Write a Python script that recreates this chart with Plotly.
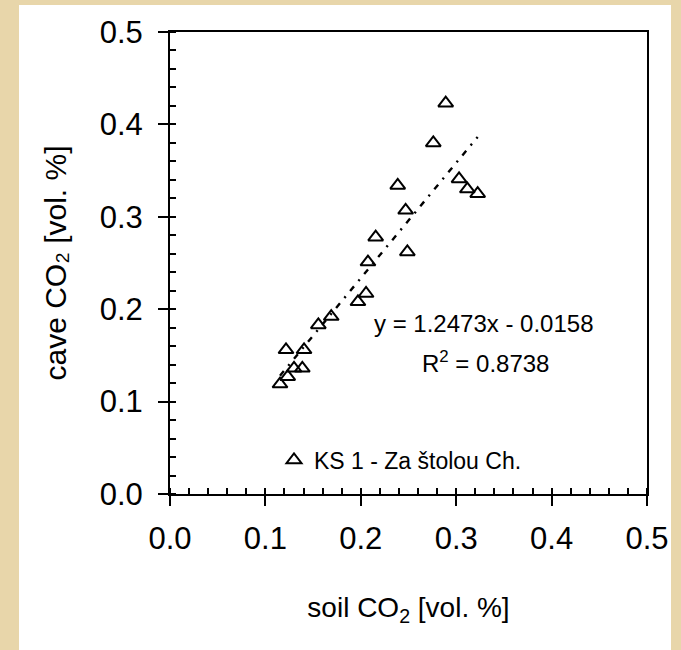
import plotly.graph_objects as go

soil_co2 = [0.289, 0.276, 0.2387, 0.247, 0.303, 0.3117, 0.3225, 0.2156, 0.2488, 0.2075,
            0.2055, 0.197, 0.169, 0.1555, 0.1216, 0.1405, 0.1387, 0.130, 0.1234, 0.1153]
cave_co2 = [0.423, 0.380, 0.334, 0.307, 0.341, 0.330, 0.325, 0.278, 0.262, 0.251,
            0.217, 0.208, 0.192, 0.183, 0.156, 0.156, 0.136, 0.136, 0.127, 0.119]
slope = 1.2473
intercept = -0.0158
r2 = 0.8738
series_name = "KS 1 - Za štolou Ch."
ticks = [0.0, 0.1, 0.2, 0.3, 0.4, 0.5]

FONT = "Arial, Liberation Sans, sans-serif"

fig = go.Figure()

x_fit = [min(soil_co2), max(soil_co2)]
y_fit = [slope * v + intercept for v in x_fit]
fig.add_trace(go.Scatter(
    x=x_fit, y=y_fit, mode="lines", showlegend=False, hoverinfo="skip",
    line=dict(color="black", width=2.4, dash="6px,7px,2px,7px"),
))
fig.add_trace(go.Scatter(
    x=soil_co2, y=cave_co2, mode="markers", name=series_name,
    marker=dict(symbol="triangle-up-open", size=13, color="black",
                line=dict(color="black", width=2)),
))

axis_common = dict(
    range=[0, 0.5], tickvals=ticks, tickformat=".1f",
    showgrid=False, zeroline=False,
    showline=True, linecolor="black", linewidth=2, mirror=True,
    ticks="outside", ticklen=10, tickwidth=2, tickcolor="black",
    tickfont=dict(family=FONT, size=31, color="black"),
    minor=dict(ticks="inside", ticklen=6, tickwidth=1.5, tickcolor="black", dtick=0.02, showgrid=False),
)

fig.update_xaxes(**axis_common, ticklabelstandoff=6,
                 title=dict(text="soil CO<sub>2</sub> [vol. %]", standoff=42,
                            font=dict(family=FONT, size=28, color="black")))
fig.update_yaxes(**axis_common, ticklabelstandoff=9,
                 title=dict(text="cave CO₂ [vol. %]", standoff=24,
                            font=dict(family=FONT, size=30, color="black")))

fig.add_annotation(x=0.329, y=0.184, xref="x", yref="y", showarrow=False,
                   text=f"y = {slope}x - {abs(intercept)}",
                   font=dict(family=FONT, size=24, color="black"))
fig.add_annotation(x=0.331, y=0.143, xref="x", yref="y", showarrow=False,
                   text=f"R<sup>2</sup> = {r2}",
                   font=dict(family=FONT, size=24, color="black"))

# white panel on tan background
L, R, T, B = 170, 34, 32, 156
W, H = 681, 650
pw, ph = W - L - R, H - T - B
fig.add_shape(type="rect", xref="paper", yref="paper", layer="below",
              x0=(19 - L) / pw, x1=(671 - L) / pw,
              y0=-(H - T - ph + 5) / ph, y1=(T - 5) / ph + 1,
              fillcolor="white", line=dict(width=0))

fig.update_layout(
    width=W, height=H,
    margin=dict(l=L, r=R, t=T, b=B),
    paper_bgcolor="#E8D6AA",
    plot_bgcolor="white",
    showlegend=True,
    legend=dict(x=(274 - L) / pw, y=(494 - 460) / ph, xanchor="left", yanchor="middle",
                bgcolor="rgba(0,0,0,0)", borderwidth=0,
                font=dict(family=FONT, size=23, color="black")),
)

fig.write_html("out.html")
